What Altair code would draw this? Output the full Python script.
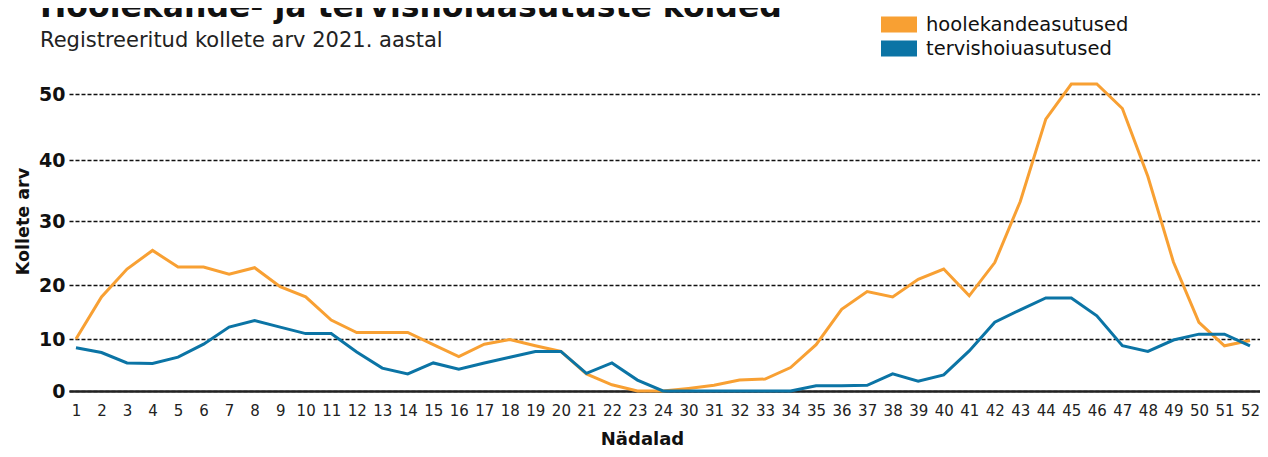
import altair as alt
import pandas as pd

# ---- data ----
weeks = [str(w) for w in list(range(1, 25)) + list(range(30, 53))]

hoolekande = [10.0, 17.8, 22.5, 25.4, 22.8, 22.8, 21.7, 22.7, 19.7, 17.8,
              13.5, 11.2, 11.2, 11.2, 8.9, 6.6, 9.0, 9.9, 8.7, 7.6,
              3.3, 1.2, 0.0, 0.0,
              0.5, 1.1, 2.1, 2.3, 4.5, 8.9, 15.5, 18.8, 17.8, 20.9,
              22.5, 18.0, 23.5, 33.2, 46.2, 51.5, 51.5, 47.8, 37.3, 23.6,
              13.1, 8.7, 9.7]

tervishoiu = [8.3, 7.4, 5.4, 5.3, 6.5, 9.0, 12.2, 13.4, 12.2, 11.0,
              11.0, 7.5, 4.4, 3.3, 5.4, 4.2, 5.4, 6.5, 7.6, 7.6,
              3.4, 5.4, 2.1, 0.0,
              0.0, 0.0, 0.0, 0.0, 0.0, 1.0, 1.0, 1.1, 3.3, 1.9,
              3.1, 7.7, 13.1, 15.4, 17.6, 17.6, 14.3, 8.7, 7.6, 9.8,
              10.9, 10.9, 8.7]

series_names = ["hoolekandeasutused", "tervishoiuasutused"]
series_colors = ["#F8A033", "#0B74A5"]
y_ticks = [0, 10, 20, 30, 40, 50]

rows = []
for name, vals in zip(series_names, [hoolekande, tervishoiu]):
    for w, v in zip(weeks, vals):
        rows.append({"week": w, "series": name, "value": v})
df = pd.DataFrame(rows)

FONT = "DejaVu Sans"

chart = alt.Chart(df).mark_line(strokeWidth=3).encode(
    x=alt.X("week:O", sort=weeks,
            scale=alt.Scale(type="point", padding=0.333, align=0.41),
            axis=alt.Axis(title="Nädalad", labelAngle=0, ticks=False,
                          domainWidth=2.5, domainColor="#222",
                          labelFontSize=15, labelFont=FONT, labelColor="#222",
                          labelPadding=12, grid=False,
                          titleFont=FONT, titleFontSize=18, titleFontWeight="bold",
                          titleColor="#111", titleX=573, titleY=53.5,
                          titleBaseline="alphabetic", titleAlign="center")),
    y=alt.Y("value:Q",
            scale=alt.Scale(domain=[0, 10, 20, 30, 40, 50, 53],
                            range=[317, 265, 211, 147, 86, 20, 0],
                            nice=False, zero=False),
            axis=alt.Axis(values=y_ticks, title="Kollete arv", domain=False,
                          ticks=False, grid=True, gridDash=[4, 2],
                          gridColor="#111", gridWidth=1.3,
                          labelFont=FONT, labelFontSize=19, labelFontWeight="bold",
                          labelColor="#111", labelPadding=4,
                          titleFont=FONT, titleFontSize=17.5, titleFontWeight="bold",
                          titleColor="#111", titleAngle=270, titleX=-41, titleY=147,
                          titleAlign="center", titleBaseline="alphabetic")),
    color=alt.Color("series:N",
                    scale=alt.Scale(domain=series_names, range=series_colors),
                    legend=alt.Legend(title=None, orient="none", legendX=804, legendY=-61.25,
                                      symbolType="stroke", symbolSize=1296,
                                      symbolStrokeWidth=16, labelFont=FONT,
                                      labelFontSize=19.5, labelColor="#111",
                                      labelOffset=1, labelLimit=0,
                                      clipHeight=23.5, rowPadding=0, padding=0)),
).properties(
    width=1191,
    height=317,
    title=alt.Title(text="Hoolekande- ja tervishoiuasutuste kolded",
                    subtitle="Registreeritud kollete arv 2021. aastal",
                    anchor="start", frame="group", dx=-29, offset=-37.75,
                    font=FONT, fontSize=31.5, fontWeight="bold", color="#111",
                    subtitleFont=FONT, subtitleFontSize=21, subtitleColor="#222",
                    subtitlePadding=6),
    autosize=alt.AutoSizeParams(type="none"),
    padding={"left": 61, "top": 66, "right": 0, "bottom": 58},
).configure_view(strokeWidth=0)

chart.save("out.html", embed_options={"renderer": "svg", "actions": False})
